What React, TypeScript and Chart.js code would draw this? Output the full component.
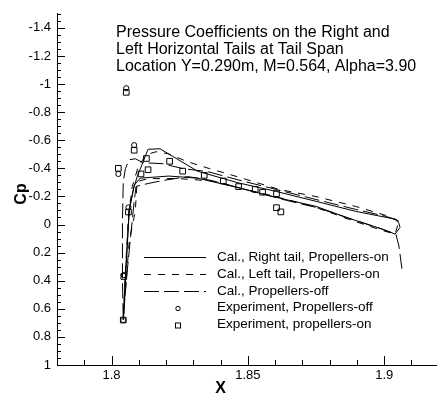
import React, { useEffect, useRef } from 'react';
import { Chart, registerables } from 'chart.js';

Chart.register(...registerables);

const FONT = '"Liberation Sans", Arial, Helvetica, sans-serif';

const TITLE_LINES = [
  'Pressure Coefficients on the Right and',
  'Left Horizontal Tails at Tail Span',
  'Location Y=0.290m, M=0.564, Alpha=3.90',
];

const X_TICKS = [1.8, 1.85, 1.9];
const Y_TICKS = [-1.4, -1.2, -1, -0.8, -0.6, -0.4, -0.2, 0, 0.2, 0.4, 0.6, 0.8, 1];

// Cal., Right tail, Propellers-on (solid)
const RIGHT_ON_X = [1.9054, 1.904, 1.9004, 1.8895, 1.875, 1.8605, 1.846, 1.8315, 1.8178, 1.8134, 1.8094, 1.8083, 1.8065, 1.8051, 1.8043, 1.8051, 1.8065, 1.8083, 1.8105, 1.821, 1.8315, 1.846, 1.8605, 1.875, 1.887, 1.8993, 1.904, 1.9058, 1.9054];
const RIGHT_ON_CP = [-0.01, -0.038, -0.052, -0.094, -0.165, -0.235, -0.299, -0.38, -0.539, -0.536, -0.34, -0.27, -0.115, 0.37, 0.68, 0.37, -0.1, -0.28, -0.33, -0.345, -0.33, -0.264, -0.193, -0.129, -0.045, 0.033, 0.068, 0.02, -0.01];

// Cal., Left tail, Propellers-on (short dash)
const LEFT_ON_X = [1.9054, 1.9004, 1.8895, 1.875, 1.8616, 1.8496, 1.8424, 1.8359, 1.8279, 1.8207, 1.8163, 1.8127, 1.8098, 1.8076, 1.8062, 1.8051, 1.8043, 1.8051, 1.8065, 1.8087, 1.8094, 1.8134, 1.8243, 1.837, 1.8431, 1.8504, 1.857, 1.8641, 1.875, 1.887, 1.8989, 1.904, 1.9054];
const LEFT_ON_CP = [-0.023, -0.066, -0.129, -0.199, -0.249, -0.32, -0.362, -0.398, -0.447, -0.504, -0.518, -0.497, -0.412, -0.271, -0.059, 0.33, 0.68, 0.47, 0.118, -0.094, -0.306, -0.327, -0.327, -0.31, -0.28, -0.243, -0.214, -0.179, -0.122, -0.037, 0.04, 0.068, -0.023];

// Cal., Propellers-off (long dash)
const OFF_X = [1.9065, 1.9054, 1.9043, 1.8993, 1.887, 1.875, 1.8641, 1.8533, 1.8424, 1.8351, 1.8279, 1.8188, 1.8134, 1.809, 1.8083, 1.8072, 1.8054, 1.8043, 1.804, 1.804, 1.8043, 1.8051, 1.8065, 1.8087, 1.8116, 1.8188, 1.8261, 1.8351, 1.846, 1.8605, 1.875, 1.8895, 1.9004, 1.9051];
const OFF_CP = [0.315, 0.153, 0.069, 0.033, -0.045, -0.122, -0.172, -0.228, -0.285, -0.32, -0.341, -0.313, -0.292, -0.271, -0.165, 0.047, 0.4, 0.68, 0.4, -0.02, -0.306, -0.398, -0.461, -0.468, -0.44, -0.433, -0.398, -0.377, -0.32, -0.249, -0.178, -0.108, -0.059, -0.031];

// Experiment, Propellers-off (circles)
const EXP_OFF_X = [1.8025, 1.8054, 1.8083, 1.8062, 1.8045, 1.8043];
const EXP_OFF_CP = [-0.36, -0.97, -0.565, -0.122, 0.36, 0.68];

// Experiment, propellers-on (squares)
const EXP_ON_X = [1.8043, 1.8045, 1.8062, 1.8025, 1.8054, 1.8083, 1.8108, 1.8128, 1.8134, 1.8213, 1.8261, 1.834, 1.841, 1.8466, 1.8527, 1.8554, 1.8605, 1.8605, 1.8621];
const EXP_ON_CP = [0.68, 0.37, -0.089, -0.4, -0.941, -0.529, -0.36, -0.47, -0.39, -0.45, -0.38, -0.35, -0.31, -0.27, -0.25, -0.23, -0.22, -0.12, -0.09];

const LEGEND_LABELS = [
  'Cal., Right tail, Propellers-on',
  'Cal., Left tail, Propellers-on',
  'Cal., Propellers-off',
  'Experiment, Propellers-off',
  'Experiment, propellers-on',
];

const SHORT_DASH = [7, 7];
const LONG_DASH = [15, 5];

const toPts = (xs: number[], ys: number[]) => xs.map((x, i) => ({ x, y: ys[i] }));

const overlayPlugin = {
  id: 'overlay',
  afterDraw(chart: any) {
    const ctx: CanvasRenderingContext2D = chart.ctx;
    const { left, right, bottom } = chart.chartArea;
    const xs = chart.scales.x;
    const ys = chart.scales.y;
    ctx.save();
    ctx.strokeStyle = '#000';
    ctx.fillStyle = '#000';
    ctx.lineWidth = 1;
    ctx.setLineDash([]);
    // y inner ticks
    for (let k = -30; k <= 20; k++) {
      const v = k * 0.05;
      const py = Math.round(ys.getPixelForValue(v)) + 0.5;
      const len = k % 4 === 0 ? 8 : 4;
      ctx.beginPath();
      ctx.moveTo(left, py);
      ctx.lineTo(left + len, py);
      ctx.stroke();
    }
    // x inner ticks
    for (let k = 178; k <= 192; k++) {
      const v = k / 100;
      const px = Math.round(xs.getPixelForValue(v)) + 0.5;
      if (px <= left + 1 || px > right) continue;
      const len = k % 5 === 0 ? 9 : 5;
      ctx.beginPath();
      ctx.moveTo(px, bottom);
      ctx.lineTo(px, bottom - len);
      ctx.stroke();
    }
    // title
    ctx.textAlign = 'left';
    ctx.textBaseline = 'middle';
    ctx.font = `16px ${FONT}`;
    TITLE_LINES.forEach((t, i) => ctx.fillText(t, 116, 33 + i * 17));
    // legend
    const ly0 = 257;
    const dy = 16.9;
    ctx.font = `13.5px ${FONT}`;
    LEGEND_LABELS.forEach((t, i) => {
      const y = ly0 + i * dy;
      const yy = Math.round(y) + 0.5;
      if (i < 3) {
        ctx.setLineDash(i === 0 ? [] : i === 1 ? SHORT_DASH : LONG_DASH);
        ctx.beginPath();
        ctx.moveTo(144, yy);
        ctx.lineTo(206, yy);
        ctx.stroke();
        ctx.setLineDash([]);
      } else if (i === 3) {
        ctx.beginPath();
        ctx.arc(178, yy, 2.2, 0, Math.PI * 2);
        ctx.stroke();
      } else {
        ctx.strokeRect(175.5, yy - 2.5, 5, 5);
      }
      ctx.fillText(t, 217, y);
    });
    // axis titles
    ctx.font = `bold 16px ${FONT}`;
    ctx.textAlign = 'center';
    ctx.fillText('X', (left + xs.getPixelForValue(1.9)) / 2 + 0, 389);
    ctx.save();
    ctx.translate(22, 194);
    ctx.rotate(-Math.PI / 2);
    ctx.fillText('Cp', 0, 0);
    ctx.restore();
    ctx.restore();
  },
};

export default function App() {
  const ref = useRef<HTMLCanvasElement | null>(null);
  useEffect(() => {
    const canvas = ref.current;
    if (!canvas) return;
    const lineDs = (label: string, xs: number[], ys: number[], dash: number[]) => ({
      label,
      data: toPts(xs, ys),
      showLine: true,
      borderColor: '#000',
      borderWidth: 1,
      borderDash: dash,
      pointRadius: 0,
      tension: 0,
      fill: false,
    });
    const chart = new Chart(canvas, {
      type: 'scatter',
      data: {
        datasets: [
          lineDs(LEGEND_LABELS[0], RIGHT_ON_X, RIGHT_ON_CP, []),
          lineDs(LEGEND_LABELS[1], LEFT_ON_X, LEFT_ON_CP, SHORT_DASH),
          lineDs(LEGEND_LABELS[2], OFF_X, OFF_CP, LONG_DASH),
          {
            label: LEGEND_LABELS[3],
            data: toPts(EXP_OFF_X, EXP_OFF_CP),
            showLine: false,
            pointStyle: 'circle',
            pointRadius: 2.6,
            borderColor: '#000',
            backgroundColor: 'rgba(0,0,0,0)',
            borderWidth: 1,
          },
          {
            label: LEGEND_LABELS[4],
            data: toPts(EXP_ON_X, EXP_ON_CP),
            showLine: false,
            pointStyle: 'rect',
            pointRadius: 4,
            borderColor: '#000',
            backgroundColor: 'rgba(0,0,0,0)',
            borderWidth: 1,
          },
        ],
      } as any,
      options: {
        animation: false,
        responsive: false,
        devicePixelRatio: 1,
        layout: { padding: { top: 11, right: 0, bottom: 0, left: 0 } },
        plugins: { legend: { display: false }, tooltip: { enabled: false }, title: { display: false } },
        scales: {
          x: {
            type: 'linear',
            min: 1.78,
            max: 1.919,
            grid: { display: false, drawTicks: false },
            border: { display: true, color: '#000', width: 1 },
            afterBuildTicks: (s: any) => { s.ticks = X_TICKS.map((v) => ({ value: v })); },
            afterFit: (s: any) => { s.height = 35; },
            ticks: {
              color: '#000',
              padding: 3,
              maxRotation: 0,
              font: { family: FONT, size: 13 },
              callback: (v: any) => String(Math.round(Number(v) * 1000) / 1000),
            },
          },
          y: {
            type: 'linear',
            reverse: true,
            min: -1.5,
            max: 1,
            grid: { display: false, drawTicks: false },
            border: { display: true, color: '#000', width: 1 },
            afterBuildTicks: (s: any) => { s.ticks = Y_TICKS.map((v) => ({ value: v })); },
            afterFit: (s: any) => { s.width = 57; },
            ticks: {
              color: '#000',
              padding: 6,
              font: { family: FONT, size: 13 },
              callback: (v: any) => String(Math.round(Number(v) * 100) / 100),
            },
          },
        },
      },
      plugins: [overlayPlugin],
    } as any);
    return () => chart.destroy();
  }, []);
  return (
    <div style={{ position: 'absolute', left: 0, top: 0, width: 441, height: 400, background: '#fff' }}>
      <canvas ref={ref} width={441} height={400} style={{ width: 441, height: 400 }} />
    </div>
  );
}
